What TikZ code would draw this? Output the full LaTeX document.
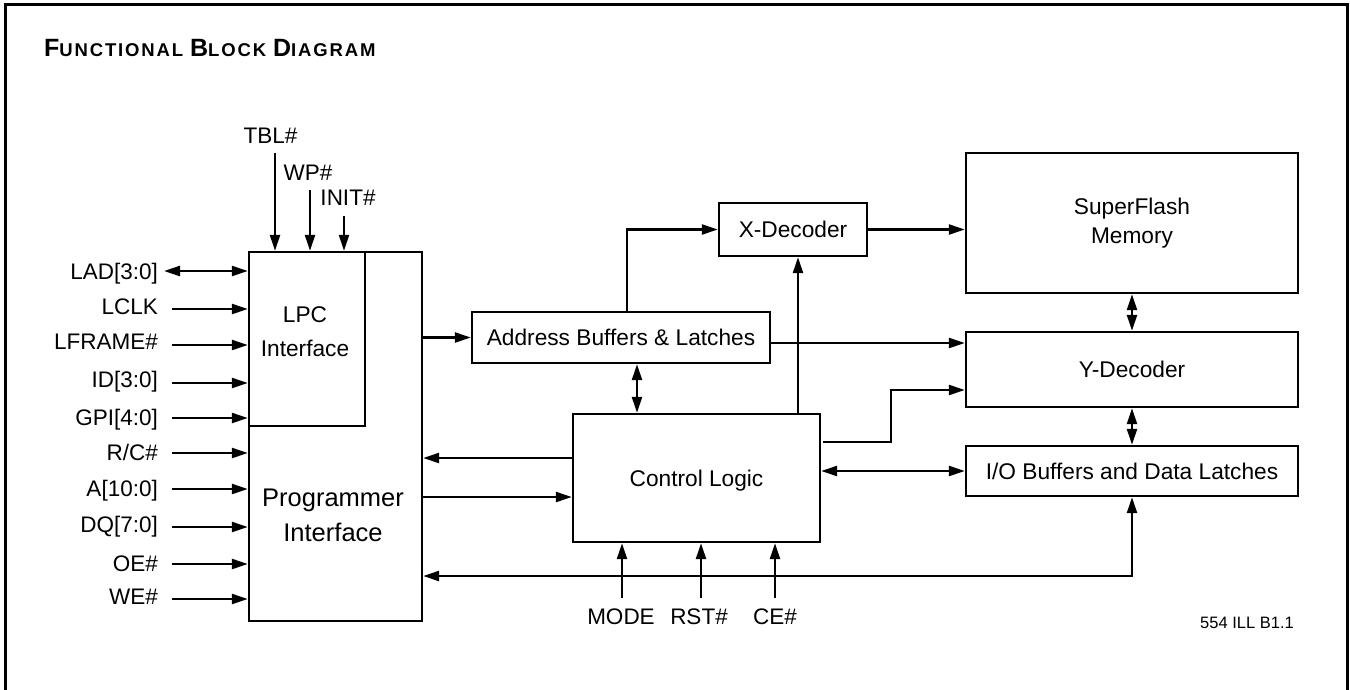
\documentclass[tikz,border=0pt]{standalone}
\usepackage{fontspec}
\setmainfont{Liberation Sans}
\usetikzlibrary{arrows.meta}

\newcommand{\smc}[1]{{\fontsize{18.5}{22}\selectfont\addfontfeature{LetterSpace=10}#1}}

\begin{document}
\begin{tikzpicture}[x=1pt,y=-1pt,
  line width=2.4pt,
  >={Triangle[length=16pt,width=10pt]},
  box/.style={draw,line width=2.4pt,inner sep=0pt,align=center,
    font=\fontsize{22.7}{29}\selectfont},
  txt/.style={inner sep=0pt,align=center,font=\fontsize{22.7}{34}\selectfont},
  sigl/.style={inner sep=0pt,text height=16.1pt,text depth=0pt,
    font=\fontsize{22.5}{27}\selectfont},
]
\useasboundingbox (0,0) rectangle (1350,689);

% outer frame (open at the bottom)
\draw[line width=3pt] (5.5,692) -- (5.5,4) -- (1347,4) -- (1347,692);

% title
\node[anchor=base west,inner sep=0pt] (title) at (43,56)
  {\bfseries\fontsize{25}{30}\selectfont F\smc{UNCTIONAL} B\smc{LOCK} D\smc{IAGRAM}};

% blocks
\node[box,minimum width=173pt,minimum height=369pt] (prog) at (335.5,436.5) {};
\node[box,minimum width=116pt,minimum height=174pt] (lpc) at (307,339) {};
\node[txt] (lpctxt) at (305,332) {LPC\\Interface};
\node[txt,font=\fontsize{25.5}{35}\selectfont] (progtxt) at (333,515.5) {Programmer\\Interface};

\node[box,minimum width=298pt,minimum height=51pt] (addr) at (621,337.5) {Address Buffers \& Latches};
\node[box,minimum width=148pt,minimum height=53pt] (xdec) at (793,229.5) {X-Decoder};
\node[box,minimum width=332pt,minimum height=140pt] (sf) at (1132,223) {SuperFlash\\Memory};
\node[box,minimum width=332pt,minimum height=75pt] (ydec) at (1132,369.5) {Y-Decoder};
\node[box,minimum width=332pt,minimum height=50pt] (io) at (1132,471) {I/O Buffers and Data Latches};
\node[box,minimum width=247pt,minimum height=128pt,text depth=0pt] (ctrl) at (696.5,478) {Control Logic};

% top inputs of the LPC interface
\node[sigl] (tbl) at (270.5,135) {TBL\#};
\node[sigl] (wp) at (308,172) {WP\#};
\node[sigl] (init) at (348,197) {INIT\#};
\coordinate (tbl-s) at (275,153);
\coordinate (wp-s) at (310,190);
\coordinate (init-s) at (344,216);
\draw[->] (tbl-s) -- (tbl-s |- prog.north);
\draw[->] (wp-s) -- (wp-s |- prog.north);
\draw[->] (init-s) -- (init-s |- prog.north);

% left side inputs
\node[sigl,anchor=east] (lad) at (159,271) {LAD[3:0]};
\node[sigl,anchor=east] (lclk) at (159,306) {LCLK};
\node[sigl,anchor=east] (lframe) at (159,341) {LFRAME\#};
\node[sigl,anchor=east] (id) at (159,379) {ID[3:0]};
\node[sigl,anchor=east] (gpi) at (159,417) {GPI[4:0]};
\node[sigl,anchor=east] (rc) at (159,452) {R/C\#};
\node[sigl,anchor=east] (addrin) at (159,488) {A[10:0]};
\node[sigl,anchor=east] (dq) at (159,524) {DQ[7:0]};
\node[sigl,anchor=east] (oe) at (159,563) {OE\#};
\node[sigl,anchor=east] (we) at (159,596) {WE\#};

\coordinate (lad-s) at (164,271);
\coordinate (lclk-s) at (172,309);
\coordinate (lframe-s) at (172,345);
\coordinate (id-s) at (172,383);
\coordinate (gpi-s) at (172,418);
\coordinate (rc-s) at (172,453);
\coordinate (addrin-s) at (172,489);
\coordinate (dq-s) at (172,527);
\coordinate (oe-s) at (172,564);
\coordinate (we-s) at (172,599);

\draw[<->] (lad-s) -- (lad-s -| prog.west);
\foreach \s in {lclk,lframe,id,gpi,rc,addrin,dq,oe,we}
  \draw[->] (\s-s) -- (\s-s -| prog.west);

% bottom inputs of the control logic
\node[sigl] (mode) at (621,616) {MODE};
\node[sigl] (rst) at (699,616) {RST\#};
\node[sigl] (ce) at (775,616) {CE\#};
\coordinate (mode-s) at (622,598);
\coordinate (rst-s) at (701,598);
\coordinate (ce-s) at (775,598);
\foreach \s in {mode,rst,ce}
  \draw[->] (\s-s) -- (\s-s |- ctrl.south);

% internal paths
\draw[->] (addr.west -| prog.east) -- (addr.west);
\draw[->] ([xshift=6pt]addr.north) |- (xdec.west);
\draw[->] (xdec.east) -- (xdec.east -| sf.west);
\draw[<->] (sf.south) -- (ydec.north);
\draw[<->] (ydec.south) -- (io.north);
\draw[->] ([yshift=-5.5pt]addr.east) -- ([yshift=-5.5pt]addr.east -| ydec.west);
\draw[<->] ([xshift=16pt]addr.south) -- ([xshift=16pt]addr.south |- ctrl.north);
\draw[->] ([xshift=5pt]xdec.south |- ctrl.north) -- ([xshift=5pt]xdec.south);
\draw[->] ([xshift=2pt,yshift=36pt]ctrl.east) -- ++(68,0) |- ([yshift=-20.5pt]ydec.west);
\draw[<->] (io.west -| ctrl.east) -- (io.west);
\draw[->] ([yshift=20pt]ctrl.west) -- ([yshift=20pt]ctrl.west -| prog.east);
\draw[->] ([yshift=-19pt]ctrl.west -| prog.east) -- ([yshift=-19pt]ctrl.west);
\coordinate (bus) at (700,576);
\draw[<->] (bus -| prog.east) -| (io.south);

% drawing number
\node[inner sep=0pt,font=\fontsize{16.5}{20}\selectfont] (ref) at (1247,623) {554 ILL B1.1};
\end{tikzpicture}
\end{document}
